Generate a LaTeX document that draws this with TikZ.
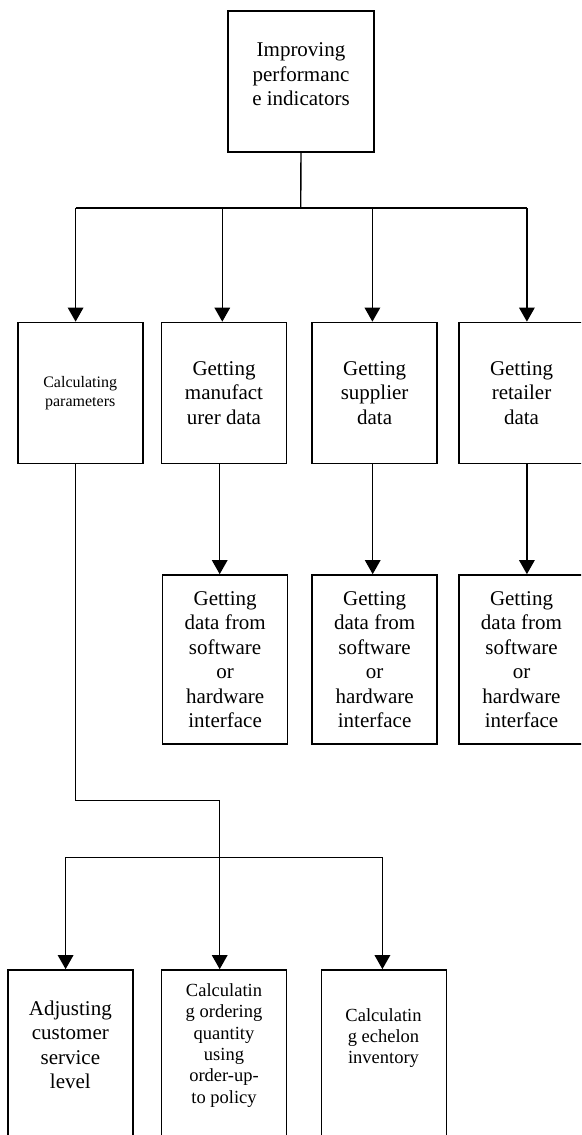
\documentclass[tikz,border=0pt]{standalone}
\usepackage{fontspec}
\setmainfont{Liberation Serif}
\usetikzlibrary{arrows.meta}
\begin{document}
\begin{tikzpicture}[x=1pt,y=-1pt,
  box/.style={draw,line width=1.7pt,minimum width=125pt,inner sep=0pt,align=center,font=\fontsize{21}{24.5}\selectfont},
  big/.style={align=center,font=\fontsize{21}{24.5}\selectfont,inner sep=0pt},
  mid/.style={align=center,font=\fontsize{18.5}{21.3}\selectfont,inner sep=0pt},
  conn/.style={line width=1.4pt},
  arr/.style={conn,-{Triangle[width=15.5pt,length=14pt]}}]
\useasboundingbox (0,0) rectangle (581,1135);
\clip (0,0) rectangle (581,1135);
\fill[white] (0,0) rectangle (581,1135);

% top
\node[box,minimum width=145.7pt,minimum height=141pt] (top) at (301,81.5) {};
\node[big] (toptext) at (301,74.5) {Improving\\performanc\\e indicators};

% row 2
\node[box,minimum height=141pt,font=\fontsize{16}{19}\selectfont] (calc) at (80.2,393) {Calculating\\parameters};
\node[box,minimum height=141pt] (manu) at (224,393) {Getting\\manufact\\urer data};
\node[box,minimum height=141pt] (supp) at (374.6,393) {Getting\\supplier\\data};
\node[box,minimum height=141pt] (ret) at (521.5,393) {Getting\\retailer\\data};

% row 3
\node[box,minimum height=169pt] (sw1) at (225.1,659.5) {Getting\\data from\\software\\or\\hardware\\interface};
\node[box,minimum height=169pt] (sw2) at (374.6,659.5) {Getting\\data from\\software\\or\\hardware\\interface};
\node[box,minimum height=169pt] (sw3) at (521.5,659.5) {Getting\\data from\\software\\or\\hardware\\interface};

% row 4
\node[box,minimum height=200pt] (adj) at (70.8,1070) {};
\node[box,minimum height=200pt] (ord) at (223.95,1070) {};
\node[box,minimum height=200pt] (ech) at (384,1070) {};
\node[big] (adjt) at (70.4,1045) {Adjusting\\customer\\service\\level};
\node[mid] (ordt) at (224,1045.5) {Calculatin\\g ordering\\quantity\\using\\order-up-\\to policy};
\node[mid] (echt) at (383.5,1038) {Calculatin\\g echelon\\inventory};

% connectors top -> row 2
\coordinate (j1) at (300.7,208);
\coordinate (d1) at (75.6,208);
\coordinate (d2) at (222.3,208);
\coordinate (d3) at (372.4,208);
\coordinate (d4) at (526.9,208);
\draw[conn] (top.south) -- (j1);
\draw[conn] (d1) -- (d4);
\draw[arr] (d1) -- (calc.north -| d1);
\draw[arr] (d2) -- (manu.north -| d2);
\draw[arr] (d3) -- (supp.north -| d3);
\draw[arr] (d4) -- (ret.north -| d4);

% row 2 -> row 3
\coordinate (xa) at (219.7,0);
\coordinate (xb) at (372.7,0);
\coordinate (xc) at (526.9,0);
\draw[arr] (manu.south -| xa) -- (sw1.north -| xa);
\draw[arr] (supp.south -| xb) -- (sw2.north -| xb);
\draw[arr] (ret.south -| xc) -- (sw3.north -| xc);

% calc -> row 4
\coordinate (xd) at (75.6,0);
\coordinate (e1) at (219.7,800.7);
\coordinate (f1) at (65.6,857.3);
\coordinate (f2) at (382.4,857.3);
\draw[conn] (calc.south -| xd) |- (e1);
\draw[arr] (e1) -- (ord.north -| xa);
\draw[conn] (f1) -- (f2);
\draw[arr] (f1) -- (adj.north -| f1);
\draw[arr] (f2) -- (ech.north -| f2);
\end{tikzpicture}
\end{document}
